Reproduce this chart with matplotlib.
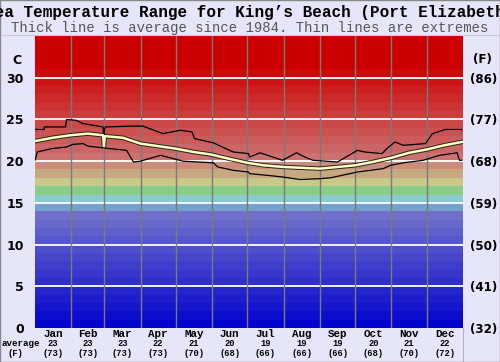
import numpy as np
import matplotlib
matplotlib.use('Agg')
import matplotlib.pyplot as plt
import matplotlib.patheffects as pe
from matplotlib.lines import Line2D

# ---- data (day of year, deg C) ----
avg_day = [0, 15, 30, 45, 58, 58.8, 59.6, 75, 90, 105, 120, 135, 150, 165, 181,
           195, 212, 228, 243, 258, 273, 288, 304, 319, 334, 349, 364]
avg_c = [22.4, 22.8, 23.1, 23.3, 23.1, 21.8, 23.0, 22.8, 22.1, 21.8, 21.5, 21.1,
         20.8, 20.3, 19.8, 19.5, 19.3, 19.2, 19.1, 19.3, 19.5, 19.9, 20.4,
         21.0, 21.4, 21.9, 22.3]

max_day = [0, 8, 8, 26, 27, 35, 41, 45, 58, 58.8, 59.2, 60, 83, 92, 109, 124, 134,
           136, 152, 169, 182, 183, 192, 211, 223, 230, 237, 258, 275, 281, 296,
           300, 307, 314, 333, 339, 350, 364]
max_c = [23.8, 23.8, 24.1, 24.1, 25.0, 24.9, 24.5, 24.4, 24.1, 22.5, 23.7, 24.1,
         24.2, 24.2, 23.3, 23.7, 23.5, 22.7, 22.2, 21.1, 20.9, 20.5, 21.0, 20.1,
         21.0, 20.5, 20.1, 19.9, 21.3, 21.1, 20.9, 21.5, 22.3, 21.9, 22.1, 23.3,
         23.8, 23.8]

min_day = [0, 2, 14, 27, 32, 41, 45, 58, 64, 78, 84, 90, 107, 118, 126, 152, 156,
           169, 182, 183, 198, 211, 226, 243, 252, 275, 297, 303, 314, 331, 345,
           360, 362, 364]
min_c = [20.1, 21.1, 21.5, 21.7, 22.0, 22.1, 21.8, 21.6, 21.5, 21.3, 19.9, 20.0,
         20.7, 20.3, 20.0, 19.8, 19.3, 18.9, 18.7, 18.5, 18.3, 18.1, 17.8, 17.9,
         18.0, 18.7, 19.1, 19.5, 19.8, 20.1, 20.7, 21.0, 20.1, 20.1]

months = ['Jan', 'Feb', 'Mar', 'Apr', 'May', 'Jun', 'Jul', 'Aug', 'Sep', 'Oct', 'Nov', 'Dec']
month_days = [31, 28, 31, 30, 31, 30, 31, 31, 30, 31, 30, 31]
month_avg_c = [23, 23, 23, 22, 21, 20, 19, 19, 19, 20, 21, 22]
month_avg_f = [73, 73, 73, 73, 70, 68, 66, 66, 66, 68, 70, 72]

c_ticks = [0, 5, 10, 15, 20, 25, 30]
f_labels = ['(32)', '(41)', '(50)', '(59)', '(68)', '(77)', '(86)']

BG = '#e6e6fa'
MONO = 'Liberation Mono'


def band_color(lo):
    fixed = {19: '#cc8c7c', 18: '#c8a880', 17: '#c8c888', 16: '#88cc88',
             15: '#88cccc', 14: '#78a0cc'}
    if lo in fixed:
        return fixed[lo]
    if lo >= 20:
        g = int(round(0x70 * max(0.0, 1 - (lo - 20) / 11.0)))
        return '#%02x%02x%02x' % (0xcc, g, g)
    v = int(round(0x70 * (lo + 0.5) / 13.5))
    return '#%02x%02x%02x' % (v, v, 0xcc)


fig = plt.figure(figsize=(5.0, 3.62), dpi=100, facecolor=BG)
ax = fig.add_axes([35 / 500, 34 / 362, 428 / 500, 292 / 362])
ax.set_xlim(0, 365)
ax.set_ylim(0, 35)

# colour bands, one per degree
for lo in range(35):
    ax.axhspan(lo, lo + 1, color=band_color(lo), lw=0, zorder=0)

# grid
for c in c_ticks[1:]:
    ax.axhline(c, color='white', lw=1.3, zorder=1)
edges = np.cumsum(month_days)[:-1]
for e in edges:
    ax.axvline(e, color='#7a7a7a', lw=1.0, zorder=1)

# extremes and average
ax.plot(max_day, max_c, color='black', lw=0.9, zorder=3)
ax.plot(min_day, min_c, color='black', lw=0.9, zorder=3)
ax.plot(avg_day, avg_c, color='#ffffc0', lw=1.8, zorder=4,
        path_effects=[pe.Stroke(linewidth=3.2, foreground='#222222'), pe.Normal()])

for s in ax.spines.values():
    s.set_visible(False)

ax.set_xticks([])
ax.set_yticks(c_ticks)
ax.set_yticklabels([str(c) for c in c_ticks], fontsize=9, fontweight='bold')
ax.tick_params(axis='y', length=0, pad=8)

ax2 = ax.twinx()
ax2.set_ylim(0, 35)
ax2.set_yticks(c_ticks)
ax2.set_yticklabels(f_labels, fontsize=8.6, fontweight='bold')
ax2.tick_params(axis='y', length=0, pad=5)
for s in ax2.spines.values():
    s.set_visible(False)

fig.text(17 / 500, 1 - 60 / 362, 'C', fontsize=9, fontweight='bold', ha='center', va='center')
fig.text(482 / 500, 1 - 60 / 362, '(F)', fontsize=8.6, fontweight='bold', ha='center', va='center')

# month labels below the plot
starts = np.concatenate([[0], edges])
mids = starts + np.array(month_days) / 2.0
xt = ax.get_xaxis_transform()
for m, x, c, f in zip(months, mids, month_avg_c, month_avg_f):
    ax.annotate(m, (x, 0), xycoords=xt, xytext=(0, -4.3), textcoords='offset points',
                ha='center', va='center', fontsize=7.8, fontweight='bold', family=MONO)
    ax.annotate(str(c), (x, 0), xycoords=xt, xytext=(0, -10.8), textcoords='offset points',
                ha='center', va='center', fontsize=6.3, fontweight='bold', family=MONO)
    ax.annotate('(%d)' % f, (x, 0), xycoords=xt, xytext=(0, -18.0), textcoords='offset points',
                ha='center', va='center', fontsize=6.3, fontweight='bold', family=MONO)

fig.text(21 / 500, 1 - 343 / 362, 'average', fontsize=6.6, fontweight='bold', family=MONO,
         ha='center', va='center')
fig.text(15 / 500, 1 - 353 / 362, '(F)', fontsize=6.3, fontweight='bold', family=MONO,
         ha='center', va='center')

# title (overflows the image edges in the original too)
fig.text(0.5, 1 - 13 / 362, "Sea Temperature Range for King\u2019s Beach (Port Elizabeth)",
         fontsize=11.5, fontweight='bold', family=MONO, ha='center', va='center')
fig.text(0.5, 1 - 28 / 362, 'Thick line is average since 1984. Thin lines are extremes',
         fontsize=10, family=MONO, color='#555555', ha='center', va='center')

# frame lines
fig.add_artist(Line2D([0, 1], [1 - 34.5 / 362] * 2, transform=fig.transFigure,
                      color='#c8c8d8', lw=0.8))
fig.add_artist(Line2D([463 / 500] * 2, [0, 34 / 362], transform=fig.transFigure,
                      color='#b0b0c0', lw=0.8))
fig.add_artist(Line2D([0, 1, 1, 0, 0], [0.999, 0.999, 0.001, 0.001, 0.999],
                      transform=fig.transFigure, color='#888888', lw=1.0))

fig.savefig('out.png', dpi=100, facecolor=BG)
